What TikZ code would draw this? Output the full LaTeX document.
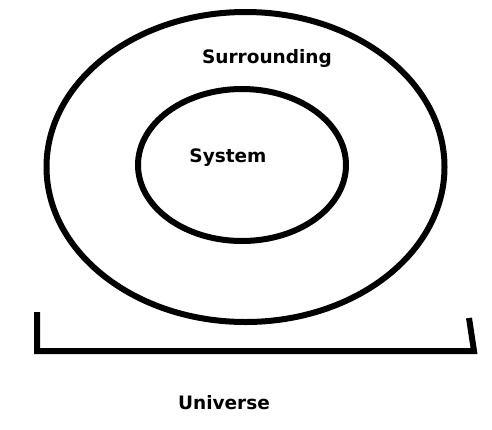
\documentclass[tikz,border=0pt]{standalone}
\usepackage{fontspec}
\setmainfont{DejaVu Sans}
\begin{document}
\begin{tikzpicture}[x=1pt, y=-1pt,
                    line width=6pt,
                    every node/.style={text centered, font=\bfseries\fontsize{18.5}{22}\selectfont}]
  \useasboundingbox (0, 0) rectangle (492, 429);
  \coordinate (centre) at (245.5, 167);
  \coordinate (left_top) at (37, 312);
  \coordinate (left_bottom) at (37, 351);
  \coordinate (right_bottom) at (474, 351);
  \coordinate (right_top) at (469, 318);
  \draw (centre) ellipse [x radius=199pt, y radius=155pt];
  \draw (242, 165) ellipse [x radius=104pt, y radius=76pt];
  \node (surrounding) at (267, 58) {Surrounding};
  \node (system) at (228, 158) {System};
  \node (universe) at (224, 403) {Universe};
  \draw (left_top) -- (left_bottom) -- (right_bottom) -- (right_top);
\end{tikzpicture}
\end{document}
